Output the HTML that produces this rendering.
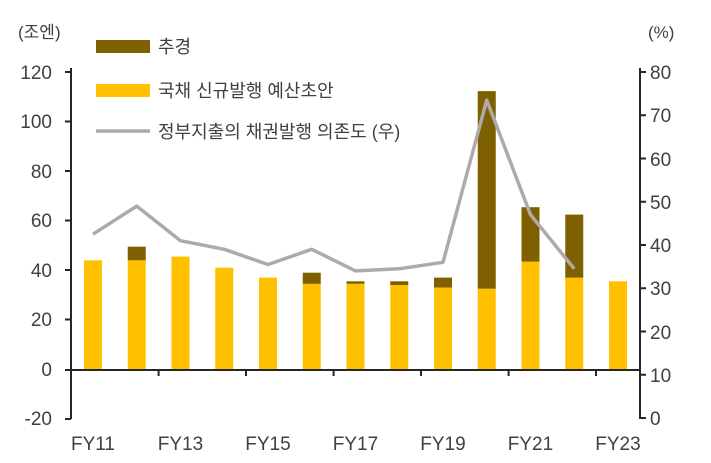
<!DOCTYPE html>
<html><head><meta charset="utf-8"><style>
body{margin:0;background:#fff;}
svg text{font-family:"Liberation Sans","Noto Sans CJK KR",sans-serif;fill:#404040;}
</style></head><body>
<svg width="711" height="458" viewBox="0 0 711 458" xmlns="http://www.w3.org/2000/svg">
<g font-size="19" text-anchor="end">
<text x="52" y="79">120</text><text x="52" y="128">100</text><text x="52" y="178">80</text><text x="52" y="227">60</text><text x="52" y="277">40</text><text x="52" y="326">20</text><text x="52" y="376">0</text><text x="52" y="425">-20</text>
</g>
<g font-size="19" text-anchor="start">
<text x="650" y="79">80</text><text x="650" y="122">70</text><text x="650" y="166">60</text><text x="650" y="209">50</text><text x="650" y="252">40</text><text x="650" y="295">30</text><text x="650" y="339">20</text><text x="650" y="382">10</text><text x="650" y="425">0</text>
</g>
<text x="18" y="38" font-size="17">(조엔)</text>
<text x="648" y="38" font-size="17">(%)</text>
<g font-size="19" text-anchor="middle">
<text x="93" y="450">FY11</text><text x="180.5" y="450">FY13</text><text x="268" y="450">FY15</text><text x="355.5" y="450">FY17</text><text x="443" y="450">FY19</text><text x="530.5" y="450">FY21</text><text x="618" y="450">FY23</text>
</g>
<!-- bars -->
<g fill="#FFC000">
<rect x="84" y="260.3" width="18" height="108.7"/>
<rect x="127.75" y="260.3" width="18" height="108.7"/>
<rect x="171.5" y="256.6" width="18" height="112.4"/>
<rect x="215.25" y="267.7" width="18" height="101.3"/>
<rect x="259" y="277.6" width="18" height="91.4"/>
<rect x="302.75" y="283.8" width="18" height="85.2"/>
<rect x="346.5" y="283.8" width="18" height="85.2"/>
<rect x="390.25" y="285" width="18" height="84"/>
<rect x="434" y="287.5" width="18" height="81.5"/>
<rect x="477.75" y="288.7" width="18" height="80.3"/>
<rect x="521.5" y="261.6" width="18" height="107.4"/>
<rect x="565.25" y="277.6" width="18" height="91.4"/>
<rect x="609" y="281.3" width="18" height="87.7"/>
</g>
<g fill="#7F6000">
<rect x="127.75" y="246.7" width="18" height="13.6"/>
<rect x="215.25" y="369" width="18" height="2"/>
<rect x="259" y="369" width="18" height="1.5"/>
<rect x="302.75" y="272.7" width="18" height="11.1"/>
<rect x="346.5" y="281.3" width="18" height="2.5"/>
<rect x="390.25" y="281.3" width="18" height="3.7"/>
<rect x="434" y="277.6" width="18" height="9.9"/>
<rect x="477.75" y="91.1" width="18" height="197.6"/>
<rect x="521.5" y="207.2" width="18" height="54.4"/>
<rect x="565.25" y="214.6" width="18" height="63"/>
</g>
<!-- axes -->
<g stroke="#262626" stroke-width="2" fill="none">
<line x1="71" y1="68" x2="71" y2="419"/>
<line x1="640" y1="68" x2="640" y2="419"/>
<line x1="65" y1="370" x2="640" y2="370"/>
<path d="M65 72H71M65 121.5H71M65 171H71M65 220.5H71M65 270H71M65 319.5H71M65 419H71"/>
<path d="M640 72H646M640 115.3H646M640 158.5H646M640 201.8H646M640 245H646M640 288.3H646M640 331.5H646M640 374.8H646M640 418H646"/>
<path d="M158.6 370V376M246 370V376M333.6 370V376M421 370V376M508.6 370V376M596 370V376"/>
</g>
<polyline fill="none" stroke="#AEAAAA" stroke-width="3.5" stroke-linejoin="round" points="93,234.2 136.75,206.1 180.5,240.7 224.25,249.3 268,264.5 311.75,249.3 355.5,270.9 399.25,268.8 443,262.3 486.75,100.1 530.5,214.7 574.25,268.8"/>
<!-- legend -->
<rect x="96" y="40" width="54" height="13" fill="#7F6000"/>
<text x="158" y="53" font-size="18">추경</text>
<rect x="96" y="84" width="54" height="13" fill="#FFC000"/>
<text x="158" y="97" font-size="18">국채 신규발행 예산초안</text>
<line x1="96" y1="131" x2="150" y2="131" stroke="#AEAAAA" stroke-width="3.5"/>
<text x="158" y="138" font-size="18">정부지출의 채권발행 의존도 (우)</text>
</svg>
</body></html>
